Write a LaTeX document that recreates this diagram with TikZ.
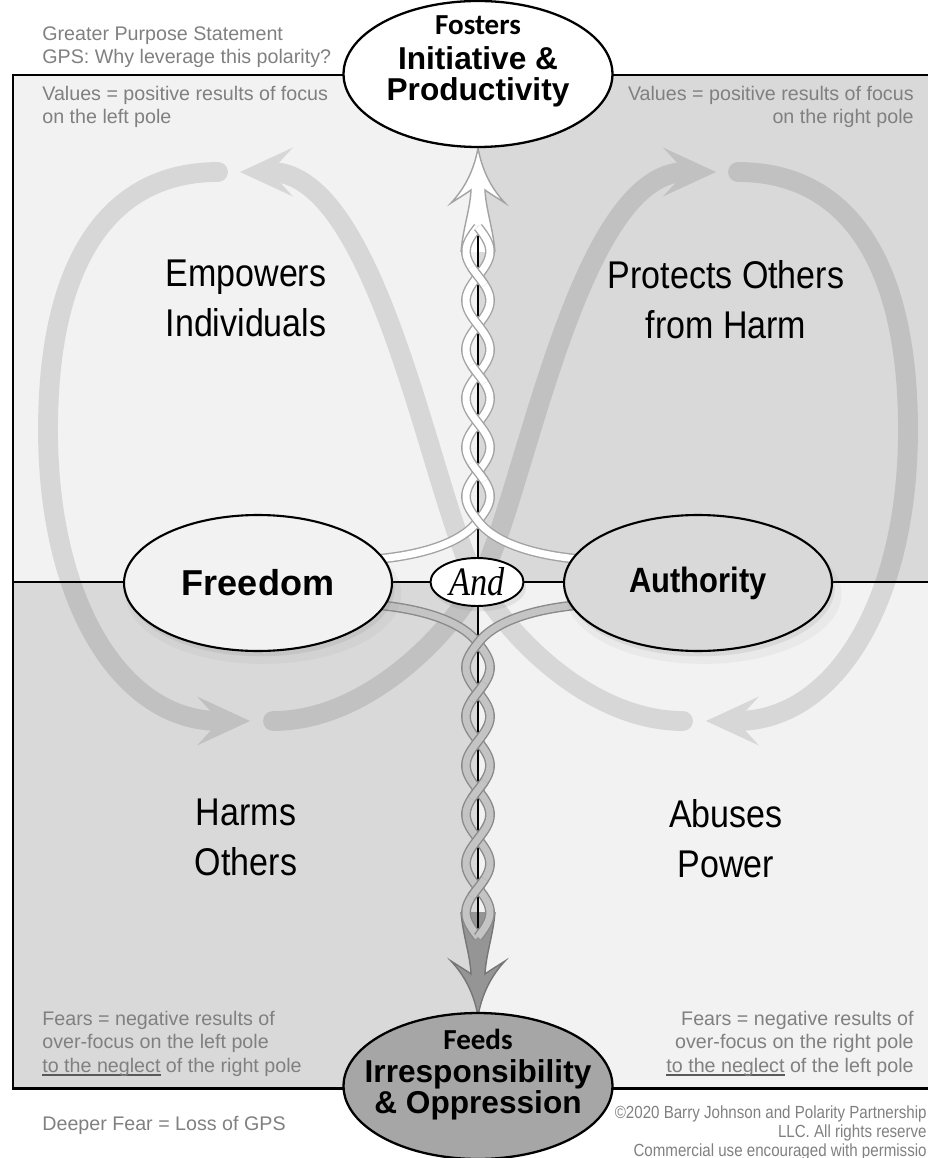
\documentclass[tikz,border=0pt]{standalone}
\usepackage{fontspec}
\setmainfont{Liberation Sans}
\newfontfamily\narrowfont{Liberation Sans}[FakeStretch=0.88]
\newfontfamily\noticefont{Liberation Sans}[FakeStretch=0.86]
\newfontfamily\andfont{Liberation Serif}[FakeStretch=0.85]
\newfontfamily\calfont{Carlito}
\usetikzlibrary{shapes,arrows.meta,shadows}
\definecolor{lightq}{HTML}{F2F2F2}
\definecolor{darkq}{HTML}{D9D9D9}
\definecolor{notegray}{HTML}{808080}
\definecolor{ulgray}{HTML}{595959}
\definecolor{fearfill}{HTML}{A6A6A6}
\definecolor{braidedge}{HTML}{A3A3A3}
\definecolor{braidlow}{HTML}{C4C4C4}
\definecolor{braidlowedge}{HTML}{8A8A8A}
\definecolor{shaftlow}{HTML}{959595}
\definecolor{shaftlowedge}{HTML}{767676}
\newcommand\ulneglect[1]{\setbox0\hbox{#1}\rlap{\color{ulgray}\rule[-2.3pt]{\wd0}{1.1pt}}\box0\relax}

\begin{document}
\begin{tikzpicture}[x=0.02cm, y=-0.02cm,
		pole/.style={
				ellipse,
				draw,
				line width=1.2pt,
				inner sep=0pt,
				minimum width=5.36cm,
				minimum height=2.72cm,
				drop shadow={shadow xshift=3pt, shadow yshift=-6pt, opacity=0.08, shadow scale=1.03},
				drop shadow={shadow xshift=1.5pt, shadow yshift=-3pt, opacity=0.15}
			},
		goal/.style={ellipse, draw, line width=1.3pt, inner sep=0pt, minimum width=5.38cm, minimum height=2.92cm},
		goaltext/.style={align=center, inner sep=0pt, font=\bfseries\fontsize{18}{18.2}\selectfont},
		big/.style={align=center, inner sep=0pt, anchor=north, font=\narrowfont\fontsize{22}{28.35}\selectfont},
		note/.style={inner sep=0pt, text=notegray, font=\fontsize{11.2}{13.2}\selectfont},
		cycleflow/.style={line width=11.3pt, line cap=round, -{Stealth[length=1.06cm, width=0.98cm, inset=0.45cm, line width=0pt]}},
		strandup/.style={draw=braidedge, double=white, line width=0.8pt, double distance=4pt},
		stranddown/.style={draw=braidlowedge, double=braidlow, line width=0.8pt, double distance=4pt}
	]
	\useasboundingbox (0,0) rectangle (928,1158);
	% Quadrants
	\fill[lightq] (13,75) rectangle (478,582);
	\fill[darkq] (478,75) rectangle (935,582);
	\fill[darkq] (13,582) rectangle (478,1088);
	\fill[lightq] (478,582) rectangle (935,1088);
	% Infinity loop
	\begin{scope}[transparency group, opacity=0.11]
		\draw[cycleflow] (683,721) .. controls (596,721) and (516,646) .. (478,583) .. controls (434,510) and (381,172) .. (240,172);
		\draw[cycleflow] (218,172) .. controls (110,172) and (48,260) .. (48,430) .. controls (48,600) and (120,721) .. (250,721);
		\draw[cycleflow] (273,721) .. controls (360,721) and (440,646) .. (478,583) .. controls (522,510) and (575,172) .. (716,172);
		\draw[cycleflow] (738,172) .. controls (846,172) and (908,260) .. (908,430) .. controls (908,600) and (836,721) .. (706,721);
	\end{scope}
	\draw[line width=1.7pt] (13,75) rectangle (935,1088);
	\draw[line width=1.1pt] (13,582) -- (935,582);
	% Shafts
	\filldraw[fill=white, draw=braidedge, line width=0.8pt] (461,252) .. controls (463,228) and (470,210) .. (471,190) .. controls (464,195) and (457,199) .. (451,203) .. controls (465,188) and (474,170) .. (478,148) .. controls (482,170) and (491,188) .. (505,203) .. controls (499,199) and (492,195) .. (485,190) .. controls (486,210) and (493,228) .. (495,252);
	\filldraw[fill=shaftlow, draw=shaftlowedge, line width=0.8pt] (461,912) .. controls (463,936) and (470,954) .. (471,974) .. controls (464,969) and (457,965) .. (451,961) .. controls (465,976) and (474,994) .. (478,1016) .. controls (482,994) and (491,976) .. (505,961) .. controls (499,965) and (492,969) .. (485,974) .. controls (486,954) and (493,936) .. (495,912);
	\draw[line width=1pt] (478,235) -- (478,930);
	% Braids
	\draw[strandup] plot[variable=\t, domain=227:521, samples=100] ({478-12*sin(3.6735*(\t-521))}, \t) .. controls (463,541) and (426,556) .. (366,560);
	\draw[strandup] plot[variable=\t, domain=227:521, samples=100] ({478+12*sin(3.6735*(\t-521))}, \t) .. controls (493,541) and (530,556) .. (590,560);
	\foreach \a/\b in {463/481, 365/383, 267/285}
		\draw[strandup] plot[variable=\t, domain=\a:\b, samples=12] ({478-12*sin(3.6735*(\t-521))}, \t);
	\draw[stranddown] (366,604) .. controls (426,608) and (463,623) .. (478,643) -- plot[variable=\t, domain=643:937, samples=100] ({478+12*sin(3.6735*(\t-643))}, \t);
	\draw[stranddown] (590,604) .. controls (530,608) and (493,623) .. (478,643) -- plot[variable=\t, domain=643:937, samples=100] ({478-12*sin(3.6735*(\t-643))}, \t);
	\foreach \a/\b in {683/701, 781/799, 879/897}
		\draw[stranddown] plot[variable=\t, domain=\a:\b, samples=12] ({478+12*sin(3.6735*(\t-643))}, \t);
	% Place nodes
	\node[pole, fill=lightq] (freedom) at (258,583) {\bfseries\fontsize{20.5}{20.5}\selectfont Freedom};
	\node[pole, fill=darkq] (authority) at (698,583) {\narrowfont\bfseries\fontsize{20}{20}\selectfont Authority};
	\node[ellipse, draw, fill=white, line width=1.1pt, inner sep=0pt, minimum width=1.86cm, minimum height=0.96cm,
		drop shadow={shadow xshift=1.5pt, shadow yshift=-3pt, opacity=0.15}] (and) at (477,582) {\andfont\itshape\fontsize{23}{23}\selectfont And};
	\node[goal, fill=white] (values) at (478,74) {};
	\node[goaltext] (valuestext) at (478,61.5) {{\calfont\fontsize{16.5}{18.2}\selectfont Fosters}\\[1.6pt]Initiative \&\\Productivity};
	\node[goal, fill=fearfill] (fears) at (478,1086) {};
	\node[goaltext, font=\bfseries\fontsize{18}{16.4}\selectfont] (fearstext) at (478,1075) {{\calfont\fontsize{16.5}{16.4}\selectfont Feeds}\\[2.2pt]Irresponsibility\\\& Oppression};
	\node[big] (empowers) at (246,260) {Empowers\\Individuals};
	\node[big] (protects) at (726,260) {Protects Others\\from Harm};
	\node[big] (harms) at (246,799) {Harms\\Others};
	\node[big] (abuses) at (726,799) {Abuses\\Power};
	% Notes
	\node[note, anchor=north west, align=left] (gps) at (42,26) {Greater Purpose Statement\\GPS: Why leverage this polarity?};
	\node[note, anchor=north west, align=left] (leftvalues) at (42,86) {Values = positive results of focus\\on the left pole};
	\node[note, anchor=north east, align=right] (rightvalues) at (914,86) {Values = positive results of focus\\on the right pole};
	\node[note, anchor=north west, align=left] (leftfears) at (42,1011) {Fears = negative results of\\over-focus on the left pole\\\ulneglect{to the neglect} of the right pole};
	\node[note, anchor=north east, align=right] (rightfears) at (914,1011) {Fears = negative results of\\over-focus on the right pole\\\ulneglect{to the neglect} of the left pole};
	\node[note, anchor=base west] (deeper) at (42,1130) {Deeper Fear = Loss of GPS};
	\node[note, anchor=north east, align=right, font=\noticefont\fontsize{10}{11.05}\selectfont] (notice) at (927,1105) {©2020 Barry Johnson and Polarity Partnership\\LLC. All rights reserve\\Commercial use encouraged with permissio};
\end{tikzpicture}
\end{document}
